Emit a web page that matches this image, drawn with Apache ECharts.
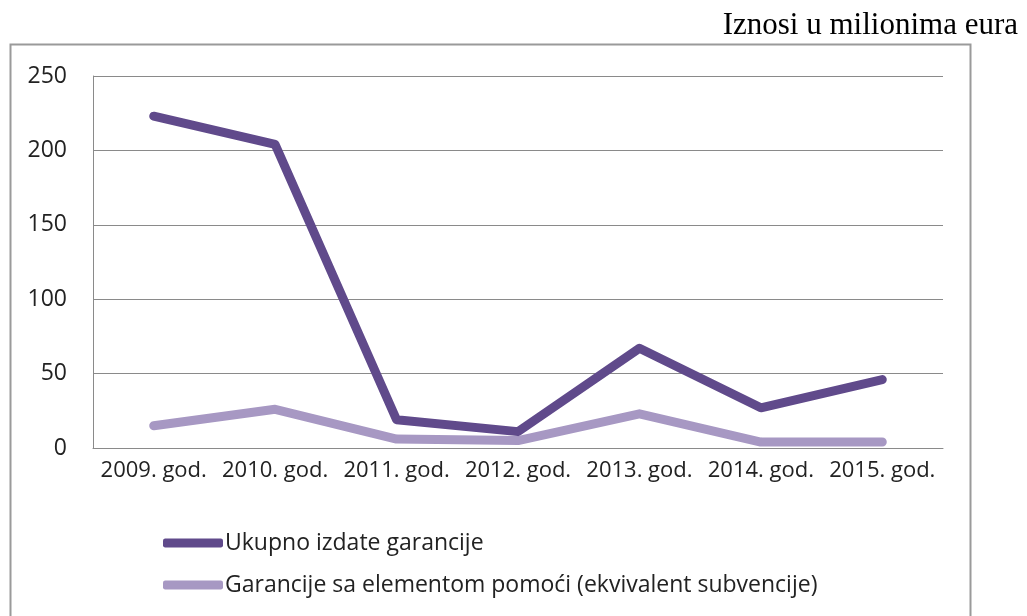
<!DOCTYPE html>
<html>
<head>
<meta charset="utf-8">
<script src="https://cdn.jsdelivr.net/npm/echarts@6/dist/echarts.min.js"></script>
<style>
html, body { margin: 0; padding: 0; background: #fff; }
#chart { width: 1027px; height: 616px; }
</style>
</head>
<body>
<div id="chart"></div>
<script>
var years = ['2009. god.', '2010. god.', '2011. god.', '2012. god.', '2013. god.', '2014. god.', '2015. god.'];
var ukupno = [223, 204, 19, 11, 67, 27, 46];
var pomoc = [15, 26, 6, 5, 23, 4, 4];
var yTicks = [0, 50, 100, 150, 200, 250];

var labelFont = '"Open Sans", "Noto Sans", sans-serif';

var myChart = echarts.init(document.getElementById('chart'));
var option = {
    backgroundColor: '#fff',
    animation: false,
    title: {
        text: 'Iznosi u milionima eura',
        right: 4,
        top: 5,
        textStyle: {
            fontFamily: '"Liberation Serif", serif',
            fontWeight: 'normal',
            fontSize: 31,
            color: '#000'
        }
    },
    graphic: [{
        type: 'rect',
        shape: { x: 10.5, y: 44.5, width: 960, height: 600 },
        style: { fill: 'none', stroke: '#9a9a9a', lineWidth: 2 },
        z: -1
    }],
    grid: {
        left: 93,
        right: 84,
        top: 76,
        bottom: 168
    },
    legend: {
        orient: 'vertical',
        left: 158,
        top: 524,
        icon: 'roundRect',
        itemWidth: 60,
        itemHeight: 9,
        itemGap: 14,
        textStyle: {
            fontFamily: labelFont,
            fontSize: 23,
            lineHeight: 28,
            color: '#222',
            padding: [0, 0, 0, -3]
        },
        data: ['Ukupno izdate garancije', 'Garancije sa elementom pomoći (ekvivalent subvencije)']
    },
    xAxis: {
        type: 'category',
        data: years,
        boundaryGap: true,
        axisLine: { lineStyle: { color: '#8a8a8a', width: 1 } },
        axisTick: { show: false },
        axisLabel: {
            margin: 12,
            fontFamily: labelFont,
            fontSize: 22,
            color: '#222',
            interval: 0
        }
    },
    yAxis: {
        type: 'value',
        min: yTicks[0],
        max: yTicks[yTicks.length - 1],
        interval: 50,
        axisLine: { show: true, lineStyle: { color: '#8a8a8a', width: 1 } },
        axisTick: { show: false },
        axisLabel: {
            margin: 26,
            fontFamily: labelFont,
            fontSize: 23,
            color: '#222'
        },
        splitLine: { show: true, lineStyle: { color: '#8a8a8a', width: 1 } }
    },
    series: [{
        name: 'Ukupno izdate garancije',
        type: 'line',
        data: ukupno,
        symbol: 'none',
        color: '#604a8b',
        lineStyle: { width: 9, cap: 'round', join: 'round' },
        z: 3
    }, {
        name: 'Garancije sa elementom pomoći (ekvivalent subvencije)',
        type: 'line',
        data: pomoc,
        symbol: 'none',
        color: '#a798c3',
        lineStyle: { width: 9, cap: 'round', join: 'round' },
        z: 2
    }]
};
myChart.setOption(option);

window.addEventListener('resize', function () {
    myChart.resize();
});
</script>
</body>
</html>
